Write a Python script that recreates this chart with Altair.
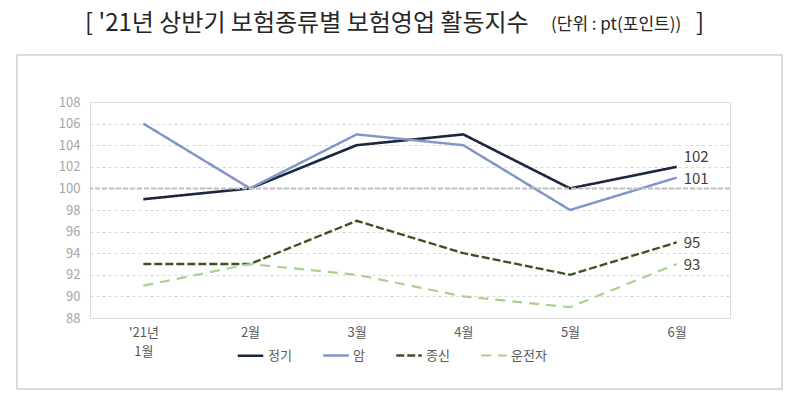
import altair as alt
import pandas as pd

# ---- data ----
months = ["'21년 1월", "2월", "3월", "4월", "5월", "6월"]
series_names = ["정기", "암", "종신", "운전자"]
jeonggi = [99, 100, 104, 105, 100, 102]
am = [106, 100, 105, 104, 98, 101]
jongsin = [93, 93, 97, 94, 92, 95]
unjeonja = [91, 93, 92, 90, 89, 93]
y_ticks = [88, 90, 92, 94, 96, 98, 100, 102, 104, 106, 108]
baseline = [100]

title_main = "[ '21년 상반기 보험종류별 보험영업 활동지수"
title_unit = "(단위 : pt(포인트))"
title_end = "]"

colors = ["#1c2541", "#7f96c8", "#3b5323", "#a9d18e"]
dashes = [[1, 0], [1, 0], [8, 3], [10, 7]]
widths = [2.6, 2.2, 3.2, 3.2]

rows = []
for name, vals in zip(series_names, [jeonggi, am, jongsin, unjeonja]):
    for m, v in zip(months, vals):
        rows.append({"month": m, "series": name, "value": v})
df = pd.DataFrame(rows)
last = df[df["month"] == months[-1]]

FONT = "Noto Sans CJK KR"

x_scale = alt.Scale(type="point", padding=0.5)
x_axis = alt.Axis(
    title=None,
    labelAngle=0,
    labelExpr="split(datum.value, ' ')",
    labelColor="#595959",
    labelFontSize=13,
    labelPadding=8,
    labelLineHeight=19,
    ticks=False,
    domainColor="#d9d9d9",
    domainWidth=1,
    grid=False,
    labelFont=FONT,
)
y_scale = alt.Scale(domain=[88, 108], nice=False, zero=False)
y_axis = alt.Axis(
    title=None,
    values=y_ticks,
    labelColor="#a6a6a6",
    labelFontSize=13,
    labelPadding=10,
    labelOverlap=False,
    ticks=False,
    domain=False,
    grid=True,
    gridColor="#d9d9d9",
    gridDash=[3, 3],
    gridWidth=1,
    labelFont=FONT,
)


def xe():
    return alt.X("month:N", sort=months, scale=x_scale, axis=x_axis)


def ye():
    return alt.Y("value:Q", scale=y_scale, axis=y_axis)


legend_style = dict(
    title=None,
    orient="none",
    direction="horizontal",
    legendX=146,
    legendY=239,
    symbolType="stroke",
    symbolSize=650,
    symbolStrokeWidth=3,
    labelFontSize=13,
    labelColor="#595959",
    labelFont=FONT,
    columnPadding=26,
    labelOffset=3,
)

lines = alt.Chart(df).mark_line().encode(
    x=xe(),
    y=ye(),
    color=alt.Color(
        "series:N",
        sort=series_names,
        scale=alt.Scale(domain=series_names, range=colors),
        legend=alt.Legend(**legend_style),
    ),
    strokeDash=alt.StrokeDash(
        "series:N",
        sort=series_names,
        scale=alt.Scale(domain=series_names, range=dashes),
        legend=alt.Legend(**legend_style),
    ),
    strokeWidth=alt.StrokeWidth(
        "series:N",
        scale=alt.Scale(domain=series_names, range=widths),
        legend=None,
    ),
    order=alt.Order("series_order:Q"),
).transform_calculate(
    series_order="indexof(['운전자','종신','암','정기'], datum.series)"
)

ref = alt.Chart(pd.DataFrame({"value": baseline})).mark_rule(
    color="#bfbfbf", strokeWidth=2, strokeDash=[5, 2]
).encode(y=ye())

label_style = dict(align="left", baseline="middle", fontSize=15, color="#404040", font=FONT, dx=7)
labels_top = alt.Chart(last[last["series"] == "정기"]).mark_text(dy=-10, **label_style).encode(
    x=xe(), y=ye(), text="value:Q",
)
labels_rest = alt.Chart(last[last["series"] != "정기"]).mark_text(dy=1, **label_style).encode(
    x=xe(), y=ye(), text="value:Q",
)

frame = alt.Chart(pd.DataFrame({"a": [0]})).mark_rect(
    fill="transparent", stroke="#d0d0d0", strokeWidth=1.5
).encode(x=alt.value(-73), x2=alt.value(692), y=alt.value(-47), y2=alt.value(287))

t1 = alt.Chart(pd.DataFrame({"t": [title_main]})).mark_text(
    align="left", baseline="middle", fontSize=24, color="#262626", font=FONT
).encode(text="t:N", x=alt.value(-5), y=alt.value(-78))
t2 = alt.Chart(pd.DataFrame({"t": [title_unit]})).mark_text(
    align="left", baseline="middle", fontSize=17, color="#262626", font=FONT
).encode(text="t:N", x=alt.value(461), y=alt.value(-77))
t3 = alt.Chart(pd.DataFrame({"t": [title_end]})).mark_text(
    align="left", baseline="middle", fontSize=24, color="#262626", font=FONT
).encode(text="t:N", x=alt.value(606), y=alt.value(-78))

chart = alt.layer(frame, lines, ref, labels_top, labels_rest, t1, t2, t3).resolve_scale(
    x="shared", y="shared"
).properties(
    width=640,
    height=216,
    padding={"left": 82, "top": 94, "right": 60, "bottom": 72},
    autosize=alt.AutoSizeParams(type="none"),
).configure_view(stroke=None).configure(font=FONT)

chart.save("out.html", embed_options={"renderer": "svg", "actions": False})
